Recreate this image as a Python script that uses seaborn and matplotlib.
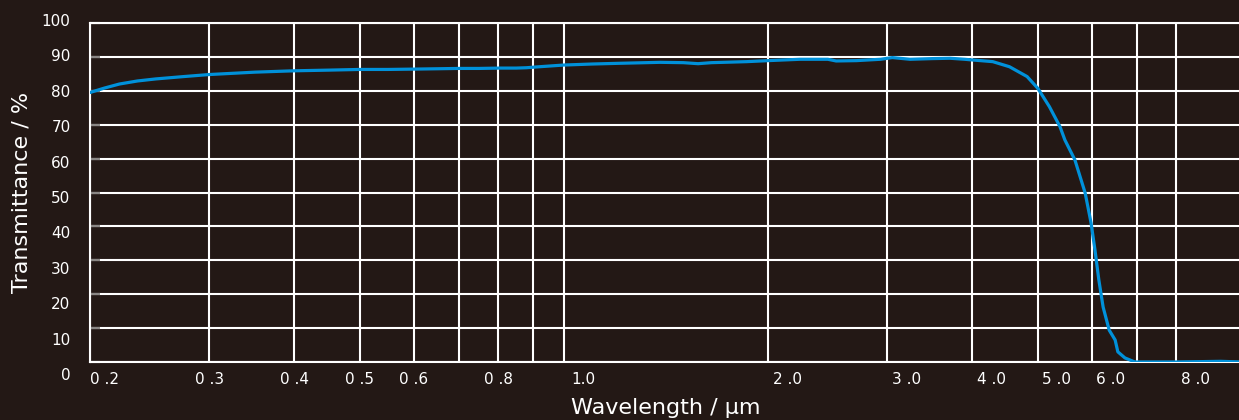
import matplotlib
matplotlib.use("Agg")
import matplotlib.pyplot as plt
import matplotlib.ticker as mticker
from matplotlib.transforms import ScaledTranslation
import seaborn as sns
import pandas as pd

# Data
wavelength = [0.200, 0.210, 0.221, 0.235, 0.250, 0.275, 0.300, 0.350, 0.400, 0.450,
              0.500, 0.550, 0.600, 0.650, 0.700, 0.750, 0.805, 0.850, 0.880, 0.920,
              1.000, 1.100, 1.200, 1.386, 1.500, 1.577, 1.650, 1.860, 2.000, 2.230,
              2.450, 2.520, 2.700, 2.930, 3.050, 3.240, 3.500, 3.710, 3.900, 4.000,
              4.290, 4.540, 4.820, 5.000, 5.200, 5.390, 5.480, 5.670, 5.870, 5.990,
              6.070, 6.150, 6.240, 6.370, 6.500, 6.560, 6.720, 6.950, 8.000, 9.300,
              10.00]
transmittance = [79.5, 80.8, 82.0, 82.9, 83.5, 84.2, 84.8, 85.5, 85.9, 86.1,
                 86.3, 86.3, 86.4, 86.5, 86.6, 86.6, 86.7, 86.7, 86.8, 87.1,
                 87.6, 87.9, 88.1, 88.4, 88.3, 88.0, 88.3, 88.6, 88.9, 89.3,
                 89.3, 88.8, 88.9, 89.3, 89.8, 89.3, 89.5, 89.6, 89.3, 89.1,
                 88.6, 87.1, 84.2, 80.7, 75.3, 69.4, 65.5, 59.6, 49.9, 41.0,
                 33.0, 24.2, 16.2, 9.4, 6.5, 3.0, 1.2, 0.0, 0.0, 0.2,
                 0.0]

grid_x = [0.3, 0.4, 0.5, 0.6, 0.7, 0.8, 0.9, 1.0, 2.0, 3.0, 4.0, 5.0, 6.0, 7.0, 8.0]
x_ticks = [0.2] + grid_x
x_labels = ["0 .2", "0 .3", "0 .4", "0 .5", "0 .6", "", "0 .8", "", "1.0",
            "2 .0", "3 .0", "4 .0", "5 .0", "6 .0", "", "8 .0"]
y_ticks = [0, 10, 20, 30, 40, 50, 60, 70, 80, 90, 100]

BG = "#231815"
LINE = "#0091da"

sns.set_theme(style="dark")
plt.rcParams["font.family"] = ["DejaVu Sans"]

df = pd.DataFrame({"Wavelength": wavelength, "Transmittance": transmittance})

fig = plt.figure(figsize=(12.39, 4.2), dpi=100, facecolor=BG)
ax = fig.add_axes([90 / 1239, 58 / 420, 1152 / 1239, 339 / 420])
ax.set_facecolor(BG)

sns.lineplot(data=df, x="Wavelength", y="Transmittance", ax=ax,
             color=LINE, linewidth=2.3, zorder=5)

ax.set_xscale("log")
ax.set_xlim(0.2, 10)
ax.set_ylim(0, 100)

ax.xaxis.set_major_locator(mticker.FixedLocator(x_ticks))
ax.xaxis.set_major_formatter(mticker.FixedFormatter(x_labels))
ax.xaxis.set_minor_locator(mticker.NullLocator())
ax.set_yticks(y_ticks)
ax.set_yticklabels([str(v) for v in y_ticks])

ax.grid(True, which="major", color="white", linewidth=1.5)
ax.tick_params(axis="x", bottom=False, length=0, pad=7, labelsize=11, colors="white")
ax.tick_params(axis="y", left=True, direction="in", length=7, width=1.6, color="#8a8785",
               pad=14, labelsize=11, labelcolor="white")

# the y labels drift slightly below the grid lines towards the bottom
for val, lab in zip(y_ticks, ax.get_yticklabels()):
    dy = -((100 - val) * 0.15 - 3) / 100
    lab.set_transform(lab.get_transform() + ScaledTranslation(0, dy, fig.dpi_scale_trans))
# labels from 1.0 upwards sit right of their grid line
for val, lab in zip(x_ticks, ax.get_xticklabels()):
    if val == 0.2:
        lab.set_horizontalalignment("left")
    elif val >= 1.0:
        lab.set_transform(lab.get_transform() + ScaledTranslation(0.19, 0, fig.dpi_scale_trans))

for side in ["left", "bottom", "top"]:
    ax.spines[side].set_visible(True)
    ax.spines[side].set_color("white")
    ax.spines[side].set_linewidth(1.5)
ax.spines["right"].set_visible(False)

ax.set_xlabel("Wavelength / µm", color="white", fontsize=16, labelpad=8)
ax.set_ylabel("Transmittance / %", color="white", fontsize=16, labelpad=7)

fig.savefig("out.png", dpi=100, facecolor=BG)
